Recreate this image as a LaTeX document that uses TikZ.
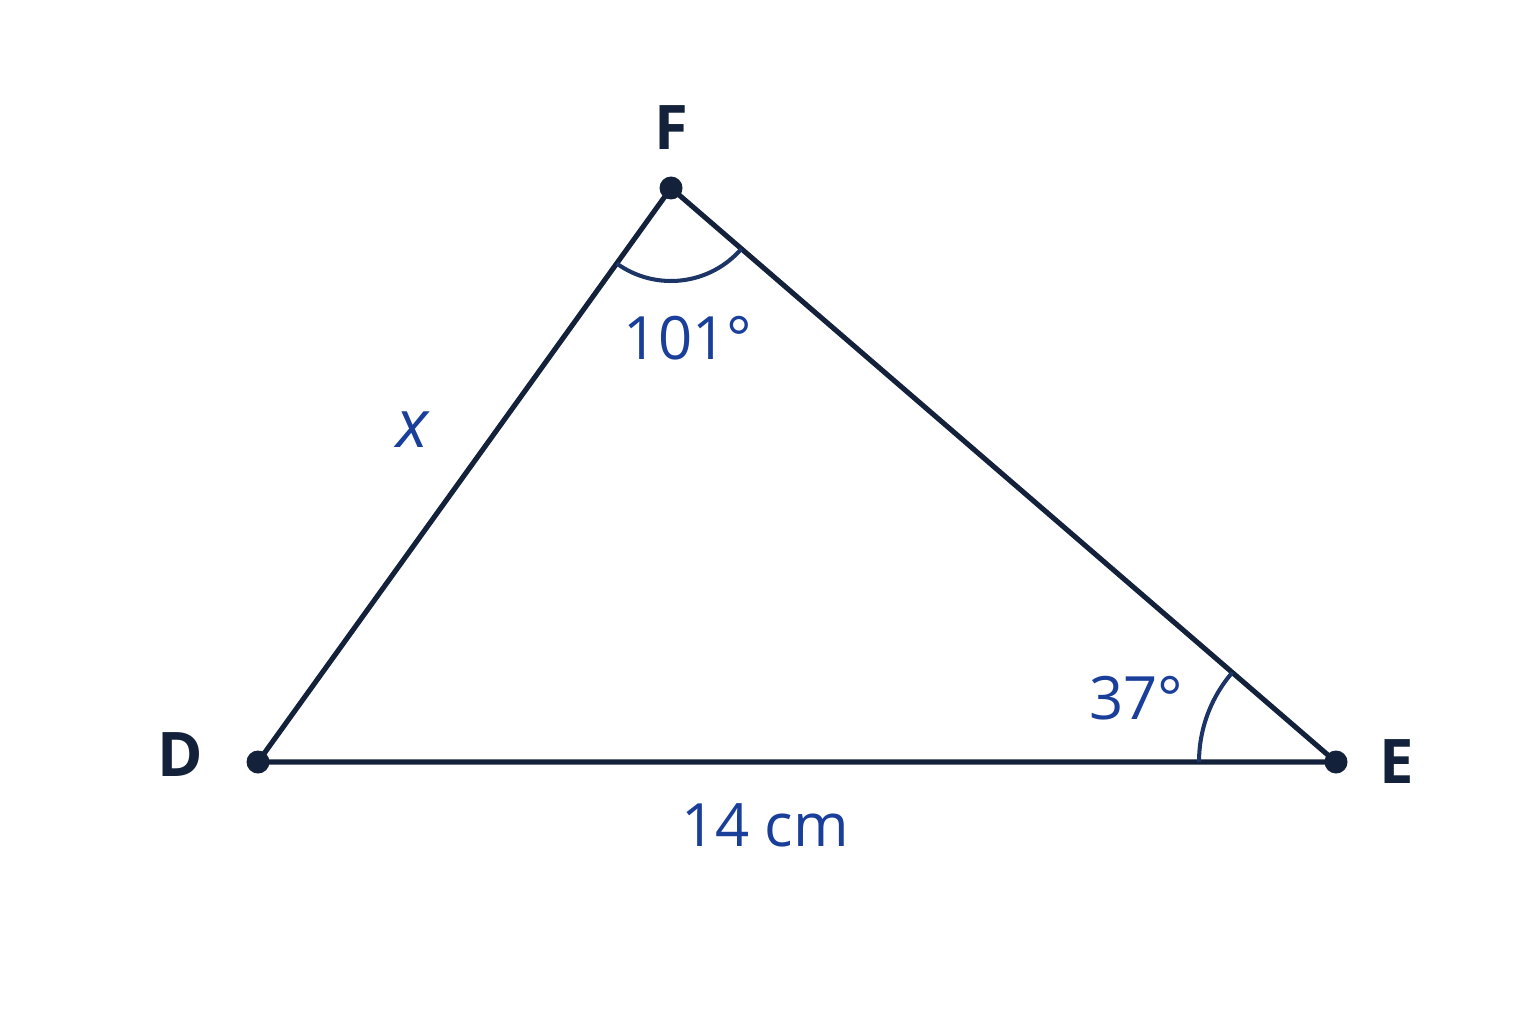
\documentclass[tikz,border=0pt]{standalone}
\usepackage{fontspec}
\setmainfont{Open Sans}
\usetikzlibrary{angles}
\definecolor{navy}{HTML}{13223A}
\definecolor{numblue}{HTML}{1A3F9A}
\definecolor{arcblue}{HTML}{1C3566}
\begin{document}
\begin{tikzpicture}[line join=round,
    side/.style={draw=navy,line width=1.45pt},
    dot/.style={circle,fill=navy,inner sep=0pt,minimum size=0.23cm},
    vlabel/.style={text=navy,font=\fontsize{17.5}{20}\selectfont\bfseries},
    mlabel/.style={text=numblue,font=\fontsize{17}{20}\selectfont},
    arcline/.style={draw=arcblue,line width=1.15pt},
  ]
\useasboundingbox[fill=white] (0,0) rectangle (15.36,10.24);
\coordinate (D) at (2.58,2.62);
\coordinate (E) at (13.36,2.62);
\coordinate (F) at (6.71,8.36);
\draw[side] (D) -- (E) -- (F) -- cycle;
\pic[arcline,angle radius=0.93cm] {angle=D--F--E};
\pic[arcline,angle radius=1.37cm] {angle=F--E--D};
\node[dot] (d) at (D) {};
\node[dot] (e) at (E) {};
\node[dot] (f) at (F) {};
\node[vlabel] (labD) at (1.80,2.69) {D};
\node[vlabel] (labE) at (13.97,2.62) {E};
\node[vlabel] (labF) at (6.71,8.96) {F};
\node[mlabel] (angF) at (6.88,6.86) {101°};
\node[mlabel] (angE) at (11.36,3.26) {37°};
\node[mlabel] (sideDE) at (7.65,1.99) {14 cm};
\node[mlabel,font=\fontsize{19}{21}\selectfont\itshape] (sideDF) at (4.13,5.94) {x};
\end{tikzpicture}
\end{document}
